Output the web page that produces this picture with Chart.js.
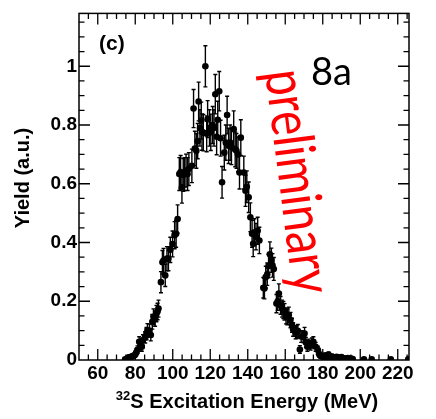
<!DOCTYPE html>
<html>
<head>
<meta charset="utf-8">
<script src="https://cdn.jsdelivr.net/npm/chart.js@4.4.1/dist/chart.umd.min.js"></script>
<style>
  html, body { margin: 0; padding: 0; background: #fff; }
  #wrap { width: 436px; height: 419px; }
</style>
</head>
<body>
<div id="wrap"><canvas id="yield-chart" width="436" height="419"></canvas></div>
<script>
// 32S excitation energy spectrum (MeV) with yield and statistical errors
const energy = [
  74.6, 75.8, 76.6, 77.5, 78.2, 79.1, 79.9, 80.6, 81.2, 82.1,
  82.8, 83.5, 84.1, 85.3, 86.0, 86.5, 87.6, 88.3, 89.1, 89.7,
  90.6, 91.3, 91.9, 92.4, 93.7, 94.5, 95.1, 96.0, 96.9, 97.7,
  98.7, 99.9, 101.0, 101.8, 102.6, 103.5, 104.2, 104.9, 105.6, 106.3,
  107.1, 107.9, 108.6, 110.2, 111.1, 111.8, 112.6, 113.3, 113.8, 114.5,
  115.2, 115.6, 116.3, 117.4, 118.1, 118.6, 119.6, 120.3, 121.3, 122.0,
  122.7, 123.4, 124.0, 124.8, 125.5, 126.3, 127.5, 128.3, 129.0, 129.8,
  130.6, 131.3, 132.5, 133.3, 134.0, 134.8, 135.6, 136.3, 137.9, 138.8,
  139.5, 140.5, 141.4, 142.3, 142.9, 143.6, 144.4, 145.3, 146.2, 148.3,
  148.9, 149.6, 150.4, 151.1, 151.8, 152.6, 153.2, 153.9, 155.3, 156.0,
  156.6, 157.5, 158.3, 159.0, 159.6, 160.4, 161.1, 161.9, 162.8, 163.6,
  164.2, 165.5, 166.1, 166.7, 167.8, 168.5, 169.6, 170.3, 171.0, 171.8,
  172.5, 173.5, 174.2, 175.0, 176.2, 177.4, 178.1, 178.9, 179.7, 180.6,
  181.4, 182.3, 183.1, 184.0, 184.8, 185.7, 186.5, 187.4, 188.2, 189.0,
  189.9, 190.8, 191.6, 192.5, 193.4, 194.2, 195.1, 196.0, 202.0, 206.1,
  216.3, 225.6
];
const yieldVal = [
  0.002, 0.006, 0.009, 0.010, 0.012, 0.014, 0.018, 0.026, 0.035, 0.062,
  0.050, 0.045, 0.068, 0.077, 0.090, 0.102, 0.100, 0.085, 0.130, 0.147,
  0.141, 0.158, 0.165, 0.175, 0.265, 0.333, 0.339, 0.288, 0.345, 0.345,
  0.375, 0.395, 0.425, 0.430, 0.480, 0.633, 0.640, 0.588, 0.630, 0.633,
  0.645, 0.633, 0.650, 0.661, 0.856, 0.720, 0.712, 0.745, 0.880, 0.790,
  0.815, 0.776, 0.774, 1.000, 0.770, 0.820, 0.790, 0.775, 0.800, 0.790,
  0.905, 0.760, 0.818, 0.915, 0.755, 0.605, 0.706, 0.740, 0.834, 0.729,
  0.740, 0.725, 0.786, 0.717, 0.712, 0.700, 0.638, 0.757, 0.638, 0.576,
  0.590, 0.554, 0.486, 0.430, 0.396, 0.435, 0.420, 0.440, 0.407, 0.246,
  0.243, 0.282, 0.292, 0.320, 0.360, 0.340, 0.322, 0.310, 0.192, 0.200,
  0.226, 0.186, 0.175, 0.170, 0.164, 0.150, 0.147, 0.153, 0.136, 0.118,
  0.104, 0.093, 0.095, 0.099, 0.036, 0.080, 0.079, 0.090, 0.060, 0.045,
  0.055, 0.050, 0.058, 0.062, 0.045, 0.034, 0.020, 0.014, 0.012, 0.010,
  0.015, 0.010, 0.018, 0.008, 0.012, 0.010, 0.007, 0.011, 0.009, 0.006,
  0.010, 0.007, 0.006, 0.005, 0.007, 0.004, 0.005, 0.003, 0.002, 0.002,
  0.002, 0.002
];
const yieldErr = [
  0.003, 0.005, 0.007, 0.007, 0.008, 0.008, 0.009, 0.011, 0.013, 0.017,
  0.016, 0.015, 0.018, 0.019, 0.021, 0.022, 0.022, 0.020, 0.025, 0.027,
  0.026, 0.028, 0.028, 0.029, 0.036, 0.040, 0.041, 0.038, 0.041, 0.041,
  0.043, 0.044, 0.046, 0.046, 0.048, 0.056, 0.056, 0.054, 0.056, 0.056,
  0.056, 0.056, 0.056, 0.057, 0.065, 0.059, 0.059, 0.060, 0.066, 0.062,
  0.063, 0.062, 0.062, 0.070, 0.061, 0.063, 0.062, 0.062, 0.063, 0.062,
  0.067, 0.061, 0.063, 0.067, 0.061, 0.054, 0.059, 0.060, 0.064, 0.060,
  0.060, 0.060, 0.062, 0.059, 0.059, 0.059, 0.056, 0.061, 0.056, 0.053,
  0.054, 0.052, 0.049, 0.046, 0.044, 0.046, 0.045, 0.046, 0.045, 0.035,
  0.035, 0.037, 0.038, 0.040, 0.042, 0.041, 0.040, 0.039, 0.031, 0.031,
  0.033, 0.030, 0.029, 0.029, 0.028, 0.027, 0.027, 0.027, 0.026, 0.024,
  0.023, 0.021, 0.022, 0.022, 0.013, 0.020, 0.020, 0.021, 0.017, 0.015,
  0.016, 0.016, 0.017, 0.017, 0.015, 0.013, 0.010, 0.008, 0.008, 0.007,
  0.009, 0.007, 0.009, 0.006, 0.008, 0.007, 0.006, 0.007, 0.006, 0.005,
  0.007, 0.005, 0.005, 0.005, 0.005, 0.004, 0.005, 0.003, 0.002, 0.002,
  0.002, 0.002
];

const xTickValues = [60, 80, 100, 120, 140, 160, 180, 200, 220];
const yTickValues = [0, 0.2, 0.4, 0.6, 0.8, 1];
const yTickLabels = ['0', '0.2', '0.4', '0.6', '0.8', '1'];

const X_MIN = 50, X_MAX = 226;
const Y_MIN = 0, Y_MAX = 1.18;

const points = energy.map((e, i) => ({ x: e, y: yieldVal[i] }));

// ROOT-style frame: box, inward ticks on all four sides, error bars and labels
const rootFrame = {
  id: 'rootFrame',
  beforeDatasetsDraw(chart) {
    const { ctx, scales: { x, y }, chartArea: a } = chart;
    ctx.save();
    ctx.beginPath();
    ctx.rect(a.left, a.top, a.right - a.left, a.bottom - a.top);
    ctx.clip();
    ctx.strokeStyle = '#000';
    ctx.lineWidth = 1.4;
    energy.forEach((e, i) => {
      const px = x.getPixelForValue(e);
      const hi = y.getPixelForValue(yieldVal[i] + yieldErr[i]);
      const lo = y.getPixelForValue(Math.max(yieldVal[i] - yieldErr[i], 0));
      ctx.beginPath();
      ctx.moveTo(px, hi); ctx.lineTo(px, lo);
      ctx.moveTo(px - 2, hi); ctx.lineTo(px + 2, hi);
      ctx.moveTo(px - 2, lo); ctx.lineTo(px + 2, lo);
      ctx.stroke();
    });
    ctx.restore();
  },
  afterDraw(chart) {
    const { ctx, scales: { x, y }, chartArea: a } = chart;
    ctx.save();
    ctx.strokeStyle = '#000';
    ctx.lineWidth = 1.5;
    ctx.strokeRect(a.left, a.top, a.right - a.left, a.bottom - a.top);

    ctx.lineWidth = 1.3;
    ctx.beginPath();
    for (let k = 10; k * 5 <= X_MAX; k++) {
      const v = k * 5;
      if (v <= X_MIN) continue;
      const px = x.getPixelForValue(v);
      const len = v % 20 === 0 ? 11 : 5.5;
      ctx.moveTo(px, a.bottom); ctx.lineTo(px, a.bottom - len);
      ctx.moveTo(px, a.top); ctx.lineTo(px, a.top + len);
    }
    for (let k = 1; k * 0.05 < Y_MAX; k++) {
      const py = y.getPixelForValue(k * 0.05);
      const len = k % 4 === 0 ? 11 : 5.5;
      ctx.moveTo(a.left, py); ctx.lineTo(a.left + len, py);
      ctx.moveTo(a.right, py); ctx.lineTo(a.right - len, py);
    }
    ctx.stroke();

    ctx.fillStyle = '#000';
    // y title
    ctx.save();
    ctx.translate(23, 178);
    ctx.rotate(-Math.PI / 2);
    ctx.font = 'bold 20px "Liberation Sans", Arial, sans-serif';
    ctx.textAlign = 'center';
    ctx.textBaseline = 'middle';
    ctx.fillText('Yield (a.u.)', 0, 0);
    ctx.restore();

    // x title with superscript mass number
    const main = 'S Excitation Energy (MeV)';
    ctx.font = 'bold 20px "Liberation Sans", Arial, sans-serif';
    const wMain = ctx.measureText(main).width;
    ctx.font = 'bold 13px "Liberation Sans", Arial, sans-serif';
    const wSup = ctx.measureText('32').width;
    const x0 = 247 - (wMain + wSup) / 2;
    ctx.textAlign = 'left';
    ctx.textBaseline = 'alphabetic';
    ctx.fillText('32', x0, 400);
    ctx.font = 'bold 20px "Liberation Sans", Arial, sans-serif';
    ctx.fillText(main, x0 + wSup, 408);

    // panel tag
    ctx.font = 'bold 21px "Liberation Sans", Arial, sans-serif';
    ctx.fillText('(c)', 99, 50);

    ctx.font = '38px Lato, "Open Sans", sans-serif';
    ctx.fillText('8a', 311, 85);

    // stamp, slightly tilted and stretched across the baseline
    ctx.save();
    ctx.translate(265, 72);
    ctx.rotate(82.7 * Math.PI / 180);
    ctx.scale(1, 1.22);
    ctx.fillStyle = '#ff0000';
    ctx.font = '46px Lato, "Open Sans", sans-serif';
    ctx.fillText('preliminary', 0, 0);
    ctx.restore();

    ctx.restore();
  }
};

new Chart(document.getElementById('yield-chart'), {
  type: 'scatter',
  data: {
    datasets: [{
      label: 'Yield',
      data: points,
      backgroundColor: '#000',
      borderColor: '#000',
      pointRadius: 3.3,
      pointHoverRadius: 3.3,
      borderWidth: 0,
    }]
  },
  options: {
    responsive: false,
    devicePixelRatio: 1,
    animation: false,
    layout: { padding: { top: 13, right: 27, left: 0, bottom: 0 } },
    plugins: {
      legend: { display: false },
      tooltip: { enabled: false },
    },
    scales: {
      x: {
        type: 'linear',
        min: X_MIN, max: X_MAX,
        afterBuildTicks: s => { s.ticks = xTickValues.map(v => ({ value: v })); },
        afterFit: s => { s.height = 59; },
        grid: { display: false, drawTicks: false },
        border: { display: false },
        ticks: {
          color: '#000',
          padding: 2,
          maxRotation: 0,
          autoSkip: false,
          font: { family: '"Liberation Sans", Arial, sans-serif', size: 19, weight: 'bold' },
          callback: v => String(v),
        },
      },
      y: {
        type: 'linear',
        min: Y_MIN, max: Y_MAX,
        afterBuildTicks: s => { s.ticks = yTickValues.map(v => ({ value: v })); },
        afterFit: s => { s.width = 79; },
        grid: { display: false, drawTicks: false },
        border: { display: false },
        ticks: {
          color: '#000',
          padding: 2,
          autoSkip: false,
          font: { family: '"Liberation Sans", Arial, sans-serif', size: 19, weight: 'bold' },
          callback: (v, i) => yTickLabels[i],
        },
      },
    },
  },
  plugins: [rootFrame],
});
</script>
</body>
</html>
